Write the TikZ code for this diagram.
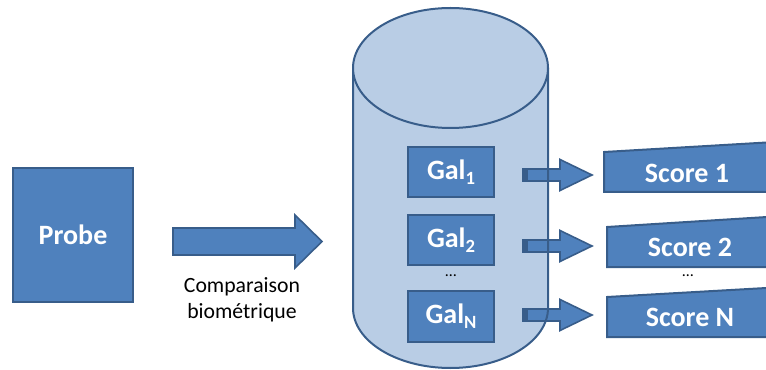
\documentclass[tikz,border=0pt]{standalone}
\usepackage{fontspec}
\setmainfont{Carlito}
\definecolor{boxfill}{HTML}{4F81BD}
\definecolor{boxline}{HTML}{385D8A}
\definecolor{cylfill}{HTML}{B9CDE5}
\newcommand{\lowsub}[1]{\raisebox{-0.35ex}{\fontsize{14}{16}\selectfont #1}}
\begin{document}
\begin{tikzpicture}[x=0.75pt,y=0.75pt,
  bluebox/.style={fill=boxfill,draw=boxline,line width=1.5pt},
  boxtext/.style={text=white,font=\fontsize{21}{24}\selectfont\bfseries,inner sep=0pt},
  galbox/.style={bluebox,minimum width=64.5pt,minimum height=38pt,boxtext},
  blockarrow/.style={fill=boxfill,draw=boxline,line width=1.2pt,line join=miter},
  dots/.style={font=\fontsize{12}{14}\selectfont,inner sep=0pt}]
\useasboundingbox (0,0) rectangle (766,-370);
% cylinder body fill
\fill[cylfill] (353,-68) -- (353,-308) arc[start angle=180,end angle=360,x radius=97.5,y radius=60] -- (548,-68) -- cycle;
% probe
\node[bluebox,minimum width=90pt,minimum height=100.5pt,boxtext] (probe) at (73,-235) {Probe};
% big arrow
\draw[blockarrow] (173,-228) -- (295,-228) -- (295,-215) -- (322,-241.5) -- (295,-268) -- (295,-255) -- (173,-255) -- cycle;
\node[font=\fontsize{16.3}{19.5}\selectfont,align=center,inner sep=0pt] (cmp) at (242,-300) {Comparaison\\biométrique};
% small arrows
\foreach \yy/\nm in {175/a1,246/a2,315/a3}{
  \draw[blockarrow] (523,-\yy+6) -- (560,-\yy+6) -- (560,-\yy+15.5) -- (592,-\yy) -- (560,-\yy-15.5) -- (560,-\yy-6) -- (523,-\yy-6) -- cycle;
  \fill[boxline] (522.4,-\yy+6.6) rectangle (528,-\yy-6.6);
}
% cylinder outline
\draw[boxline,line width=1.5pt] (353,-68) -- (353,-308) arc[start angle=180,end angle=360,x radius=97.5,y radius=60] -- (548,-68);
\draw[boxline,line width=1.5pt,fill=cylfill] (450.5,-68) ellipse[x radius=97.5,y radius=60];
% gallery boxes
\node[galbox] (g1) at (451,-172) {Gal\lowsub{1}};
\node[galbox] (g2) at (451,-240) {Gal\lowsub{2}};
\node[galbox] (gn) at (451,-316.5) {Gal\lowsub{N}};
\node[dots] (gd) at (451,-276) {…};
% score boxes
\draw[bluebox] (604,-152) -- (775,-142) -- (775,-192) -- (604,-192) -- cycle;
\draw[bluebox] (607,-227) -- (775,-216.5) -- (775,-267) -- (607,-267) -- cycle;
\draw[bluebox] (607,-297) -- (775,-287.5) -- (775,-337) -- (607,-337) -- cycle;
\node[boxtext] (s1) at (687,-173) {Score 1};
\node[boxtext] (s2) at (690,-247) {Score 2};
\node[boxtext] (sn) at (690,-317) {Score N};
\node[dots] (sd) at (688,-276) {…};
\end{tikzpicture}
\end{document}
